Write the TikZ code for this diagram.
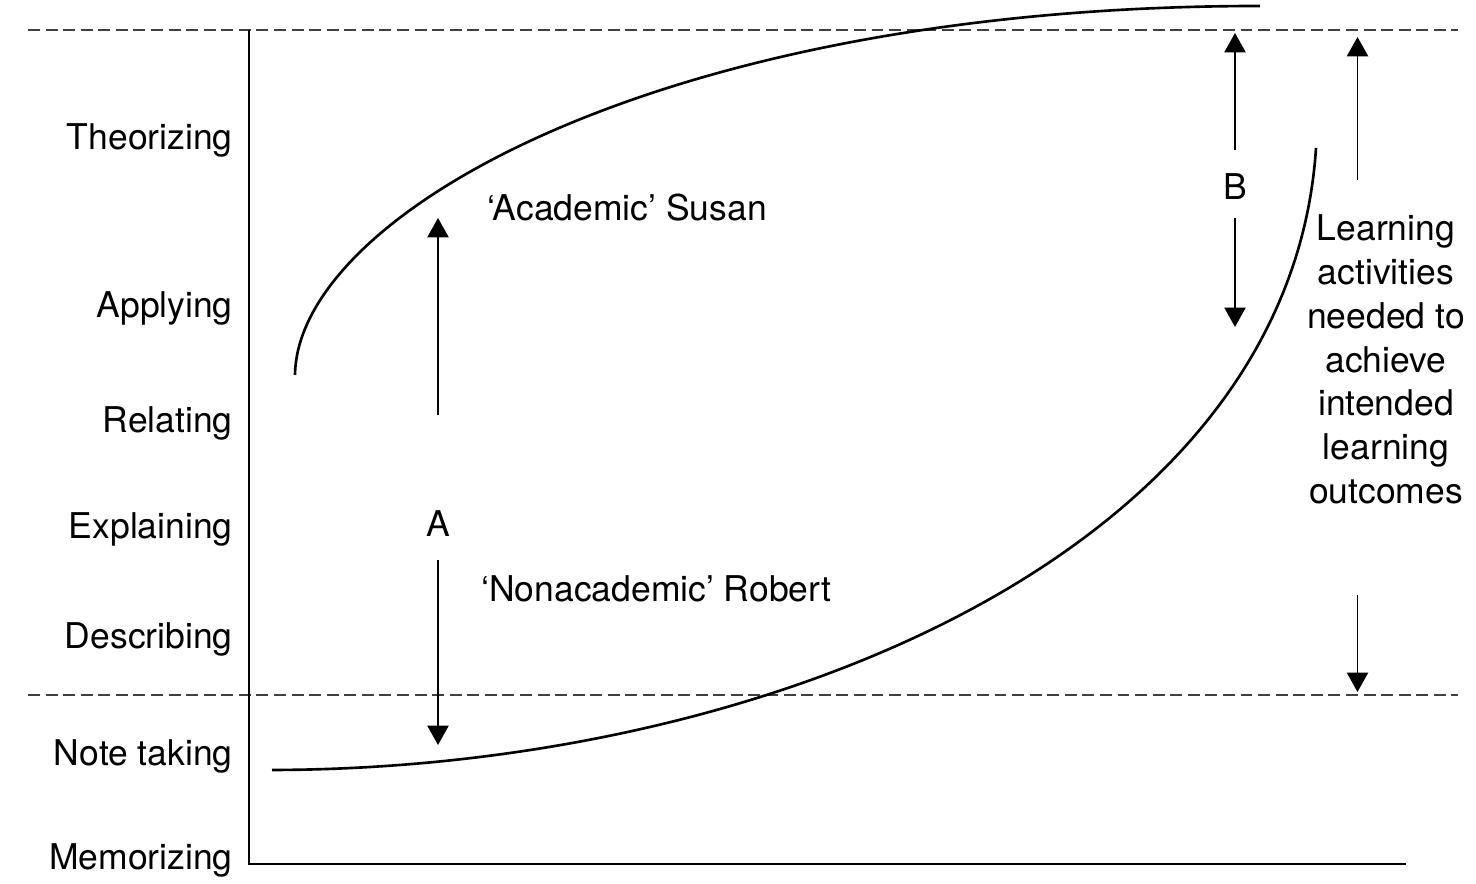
\documentclass[tikz,border=0pt]{standalone}
\usepackage{fontspec}
\setmainfont{TeX Gyre Heros}
\usetikzlibrary{arrows.meta}
\definecolor{guidegray}{HTML}{404040}

\begin{document}
\begin{tikzpicture}[
  level/.style={anchor=base east,inner sep=0pt,font=\fontsize{20.2}{25}\selectfont},
  learner/.style={anchor=base west,inner sep=0pt,font=\fontsize{20.2}{25}\selectfont},
  gap/.style={anchor=base,inner sep=0pt,font=\fontsize{20.2}{25}\selectfont},
  guide/.style={guidegray,line width=1.5pt,dash pattern=on 6.8pt off 3.2pt},
  curve/.style={line width=1.5pt},
  arr/.style={-{Triangle[length=11pt,width=12pt]},line width=1.1pt}]

  \useasboundingbox (0,0) rectangle (29.52,17.68);

  % guide lines and axes
  \draw[guide] (0.56,17.08) -- (29.16,17.08);
  \draw[guide] (0.56,3.78) -- (29.16,3.78);
  \draw[line width=1.1pt] (4.98,17.08) -- (4.98,0.40) -- (28.12,0.40);

  % levels of activity
  \node[level] (theo) at (4.66,14.68) {Theorizing};
  \node[level] (appl) at (4.66,11.32) {Applying};
  \node[level] (rela) at (4.66,9.02) {Relating};
  \node[level] (expl) at (4.66,6.90) {Explaining};
  \node[level] (desc) at (4.66,4.70) {Describing};
  \node[level] (note) at (4.66,2.36) {Note taking};
  \node[level] (memo) at (4.66,0.28) {Memorizing};

  % the two students
  \draw[curve] (5.90,10.18) .. controls (5.94,13.38) and (13.20,17.56) .. (25.20,17.56);
  \draw[curve] (5.44,2.28) .. controls (15.40,2.30) and (25.80,6.68) .. (26.32,14.72);
  \node[learner] (susan) at (9.74,13.26) {‘Academic’ Susan};
  \node[learner] (robert) at (9.62,5.64) {‘Nonacademic’ Robert};

  \node[gap] (gapA) at (8.76,6.95) {A};
  \node[gap] (gapB) at (24.70,13.68) {B};
  \node[anchor=north,align=center,inner sep=0pt,
    font=\fontsize{20.2}{25}\selectfont] (needed) at (27.72,13.40)
    {Learning\\activities\\needed to\\achieve\\intended\\learning\\outcomes};

  \coordinate (aUp0) at (8.76,9.38);
  \coordinate (aUp1) at (8.76,13.32);
  \coordinate (aDn0) at (8.76,6.48);
  \coordinate (aDn1) at (8.76,2.78);
  \coordinate (bUp0) at (24.70,14.68);
  \coordinate (bUp1) at (24.70,17.02);
  \coordinate (bDn0) at (24.70,13.32);
  \coordinate (bDn1) at (24.70,11.14);
  \coordinate (nUp0) at (27.15,14.08);
  \coordinate (nUp1) at (27.15,16.94);
  \coordinate (nDn0) at (27.15,5.78);
  \coordinate (nDn1) at (27.15,3.84);

  \draw[arr] (aUp0) -- (aUp1);
  \draw[arr] (aDn0) -- (aDn1);
  \draw[arr] (bUp0) -- (bUp1);
  \draw[arr] (bDn0) -- (bDn1);
  \draw[arr] (nUp0) -- (nUp1);
  \draw[arr] (nDn0) -- (nDn1);
\end{tikzpicture}
\end{document}
